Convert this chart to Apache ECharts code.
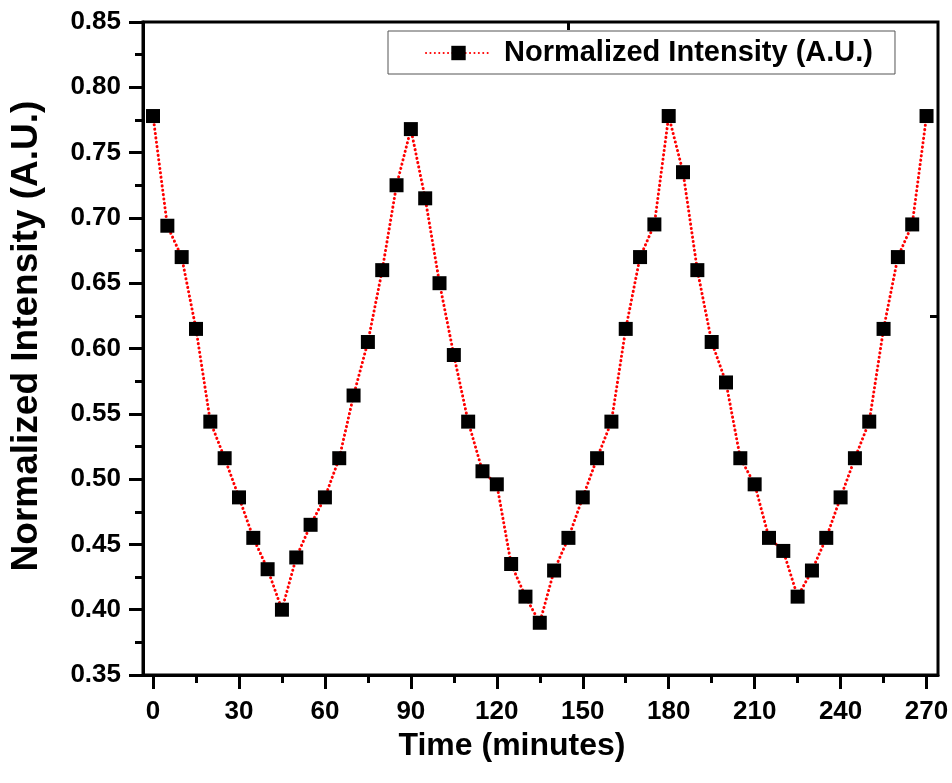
<!DOCTYPE html>
<html>
<head>
<meta charset="utf-8">
<script src="https://cdn.jsdelivr.net/npm/echarts@6/dist/echarts.min.js"></script>
<style>
  html, body { margin: 0; padding: 0; background: #fff; }
  #main { width: 952px; height: 783px; }
</style>
</head>
<body>
<div id="main"></div>
<script>
// 时间 (minutes)
var times = [0, 5, 10, 15, 20, 25, 30, 35, 40, 45, 50, 55, 60, 65, 70, 75, 80, 85, 90,
  95, 100, 105, 110, 115, 120, 125, 130, 135, 140, 145, 150, 155, 160, 165, 170, 175, 180,
  185, 190, 195, 200, 205, 210, 215, 220, 225, 230, 235, 240, 245, 250, 255, 260, 265, 270];
// normalized intensity
var intensity = [0.778, 0.694, 0.670, 0.615, 0.544, 0.516, 0.486, 0.455, 0.431, 0.400, 0.440,
  0.465, 0.486, 0.516, 0.564, 0.605, 0.660, 0.725, 0.768,
  0.715, 0.650, 0.595, 0.544, 0.506, 0.496, 0.435, 0.410, 0.390, 0.430, 0.455, 0.486,
  0.516, 0.544, 0.615, 0.670, 0.695, 0.778,
  0.735, 0.660, 0.605, 0.574, 0.516, 0.496, 0.455, 0.445, 0.410, 0.430, 0.455, 0.486,
  0.516, 0.544, 0.615, 0.670, 0.695, 0.778];
var xLabels = [0, 30, 60, 90, 120, 150, 180, 210, 240, 270];
var xMinor = [15, 45, 75, 105, 135, 165, 195, 225, 255];

var pts = [];
for (var i = 0; i < times.length; i++) {
    pts.push([times[i], intensity[i]]);
}

var font = 'Liberation Sans';
var myChart = echarts.init(document.getElementById('main'));

var option = {
    animation: false,
    backgroundColor: '#fff',
    textStyle: { fontFamily: font },
    grid: {
        left: 141, right: 14, top: 22, bottom: 108,
        show: true, borderColor: '#000', borderWidth: 3
    },
    legend: {
        left: 388, top: 31,
        backgroundColor: '#fff',
        borderColor: '#555', borderWidth: 1,
        padding: [6, 22, 5, 37],
        itemWidth: 65, itemHeight: 18,
        textStyle: { fontSize: 29, fontWeight: 'bold', color: '#000', fontFamily: font, padding: [2, 0, 0, 8], lineHeight: 30 },
        data: ['Normalized Intensity (A.U.)']
    },
    xAxis: [{
        type: 'value',
        min: -3.5, max: 274,
        position: 'bottom',
        name: 'Time (minutes)',
        nameLocation: 'middle',
        nameGap: 54,
        nameTextStyle: { fontSize: 32, fontWeight: 'bold', color: '#000', fontFamily: font, padding: [0, 57, 0, 0] },
        axisLine: { onZero: false, lineStyle: { color: '#000', width: 3 } },
        axisTick: { inside: false, customValues: xLabels, length: 14, lineStyle: { color: '#000', width: 3 } },
        axisLabel: { customValues: xLabels, margin: 24, fontSize: 26, fontWeight: 'bold', color: '#000', fontFamily: font },
        splitLine: { show: false }
    }, {
        type: 'value',
        min: -3.5, max: 274,
        position: 'bottom',
        axisLine: { show: false, onZero: false },
        axisTick: { inside: false, customValues: xMinor, length: 8, lineStyle: { color: '#000', width: 3 } },
        axisLabel: { show: false },
        splitLine: { show: false }
    }, {
        type: 'value',
        min: -3.5, max: 274,
        position: 'top',
        axisLine: { show: false, onZero: false },
        axisTick: { inside: true, customValues: [145], length: 8, lineStyle: { color: '#000', width: 3 } },
        axisLabel: { show: false },
        splitLine: { show: false }
    }],
    yAxis: [{
        type: 'value',
        min: 0.35, max: 0.85, interval: 0.05,
        name: 'Normalized Intensity (A.U.)',
        nameLocation: 'middle',
        nameGap: 98,
        nameTextStyle: { fontSize: 37, fontWeight: 'bold', color: '#000', fontFamily: font, padding: [0, 0, 0, 25] },
        axisLine: { onZero: false, lineStyle: { color: '#000', width: 3 } },
        axisTick: { inside: false, length: 14, lineStyle: { color: '#000', width: 3 } },
        minorTick: { show: true, splitNumber: 2, length: 8, lineStyle: { color: '#000', width: 3 } },
        axisLabel: {
            margin: 22, fontSize: 26, fontWeight: 'bold', color: '#000', fontFamily: font,
            formatter: function (v) { return v.toFixed(2); }
        },
        splitLine: { show: false }
    }, {
        type: 'value',
        min: 0.35, max: 0.85,
        position: 'right',
        axisLine: { show: false, onZero: false },
        axisTick: { inside: true, customValues: [0.625], length: 8, lineStyle: { color: '#000', width: 3 } },
        axisLabel: { show: false },
        splitLine: { show: false }
    }],
    series: [{
        name: 'Normalized Intensity (A.U.)',
        type: 'line',
        data: pts,
        symbol: 'rect',
        symbolSize: 14,
        itemStyle: { color: '#000' },
        lineStyle: { color: '#ff0000', width: 3, type: [0.1, 4.3], cap: 'round' },
        z: 3
    }]
};
myChart.setOption(option);
</script>
</body>
</html>
